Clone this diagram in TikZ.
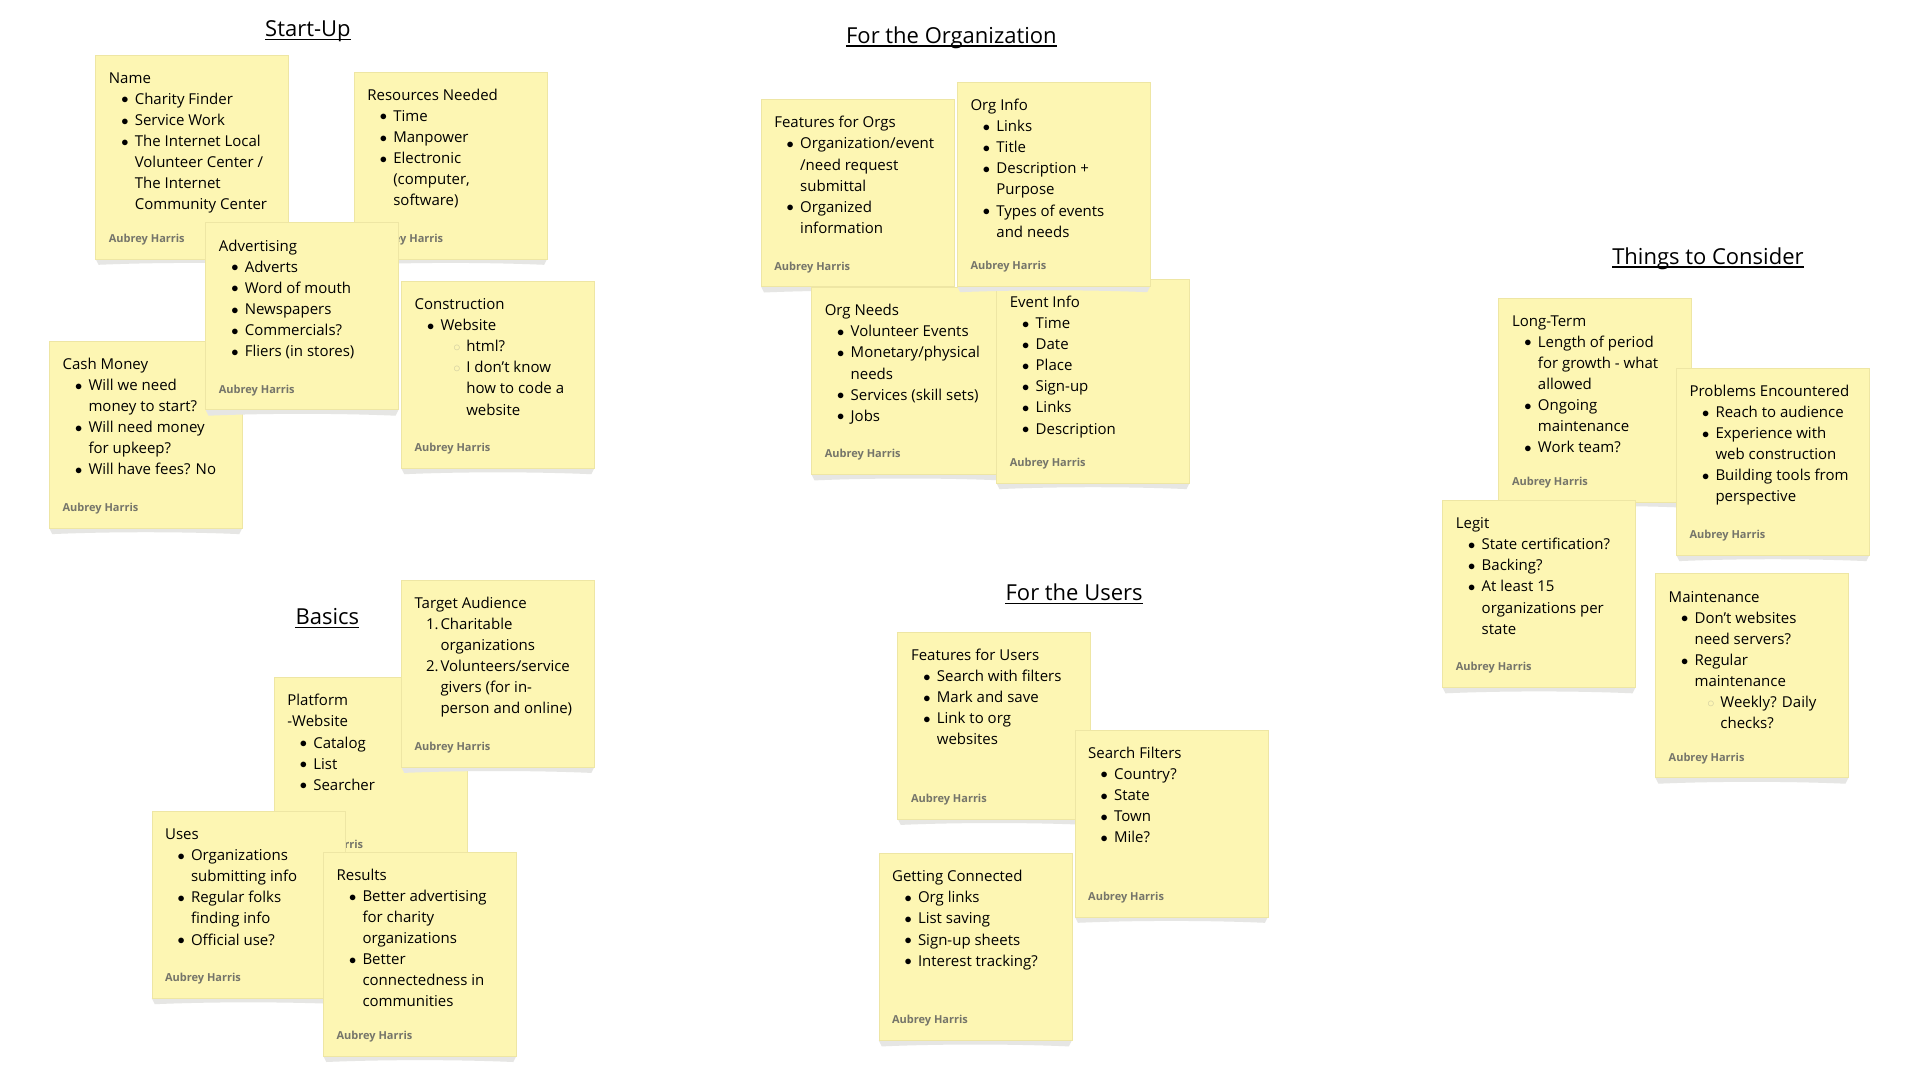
\documentclass[tikz,border=0pt]{standalone}
\usepackage{fontspec}
\setmainfont{Open Sans}
\definecolor{notefill}{HTML}{FDF6B3}
\definecolor{noteedge}{HTML}{EEE6A4}
\definecolor{shadowc}{HTML}{E6E6E4}
\definecolor{authorc}{HTML}{75756A}
\definecolor{subcol}{HTML}{CFCBA0}
\newcommand\itb{\hspace*{16pt}\makebox[0pt]{\raisebox{0.3pt}{$\bullet$}}\hspace*{9.9pt}}
\newcommand\itc{\hspace*{25.9pt}}
\newcommand\subb{\hspace*{42.3pt}\makebox[0pt]{\textcolor{subcol}{$\circ$}}\hspace*{9.4pt}}
\newcommand\subc{\hspace*{51.7pt}}
\newcommand\numi[1]{\hspace*{11.5pt}\makebox[14.4pt][l]{#1}}
\tikzset{
  notebox/.style={draw=noteedge, line width=0.6pt, fill=notefill, minimum width=193pt, inner sep=0pt, outer sep=0pt, rectangle},
  notetext/.style={anchor=base west, inner sep=0pt, font=\fontsize{15}{21.1}\selectfont},
  author/.style={anchor=base west, inner sep=0pt, text=authorc, font=\fontsize{11}{13}\selectfont\bfseries},
  heading/.style={anchor=base, inner sep=0pt, font=\fontsize{22}{26}\selectfont},
  uline/.style={line width=1.3pt}
}
\newcommand\sticky[5]{%
  \fill[shadowc] (#2,#3+#4) -- (#2+3,#3+#4+6) .. controls (#2+60,#3+#4+3.5) and (#2+133,#3+#4+3.5) .. (#2+190,#3+#4+6) -- (#2+193,#3+#4) -- cycle;
  \node[notebox, minimum height=#4pt, anchor=north west] (#1) at (#2,#3) {};
  \node[notetext] (#1-text) at (#2+13.1,#3+28.3) {\parbox[t]{180pt}{\raggedright #5}};
  \node[author] (#1-author) at (#2+13.1,#3+#4-16.5) {Aubrey Harris};
}
\newcommand\heading[4]{%
  \node[heading] (#1) at (#2,#3) {#4};
  \draw[uline] ([yshift=-2.7pt]#1.base west) -- ([yshift=-2.7pt]#1.base east);
}
\begin{document}
\begin{tikzpicture}[x=1pt,y=-1pt]
\fill[white] (0,0) rectangle (1920,1080);
\useasboundingbox (0,0) rectangle (1920,1080);
\begin{scope}[shift={(-0.8,-1.6)}]

% ---------------- Start-Up ----------------
\heading{hstart}{308.7}{38.1}{Start-Up}
\sticky{name}{96.4}{56.4}{204}{Name\\
\itb Charity Finder\\
\itb Service Work\\
\itb The Internet Local\\
\itc Volunteer Center /\\
\itc The Internet\\
\itc Community Center}
\sticky{resources}{354.9}{73.4}{187}{Resources Needed\\
\itb Time\\
\itb Manpower\\
\itb Electronic\\
\itc (computer,\\
\itc software)}
\sticky{cash}{50.1}{342.7}{187}{Cash Money\\
\itb Will we need\\
\itc money to start?\\
\itb Will need money\\
\itc for upkeep?\\
\itb Will have fees? No}
\sticky{construction}{402.1}{282.8}{187}{Construction\\
\itb Website\\
\subb html?\\
\subb I don’t know\\
\subc how to code a\\
\subc website}
\sticky{advertising}{206.4}{224.3}{187}{Advertising\\
\itb Adverts\\
\itb Word of mouth\\
\itb Newspapers\\
\itb Commercials?\\
\itb Fliers (in stores)}

% ---------------- For the Organization ----------------
\heading{horg}{952.2}{45}{For the Organization}
\sticky{featorgs}{761.8}{101.1}{187}{Features for Orgs\\
\itb Organization/event\\
\itc /need request\\
\itc submittal\\
\itb Organized\\
\itc information}
\sticky{orgneeds}{812.3}{289.0}{187}{Org Needs\\
\itb Volunteer Events\\
\itb Monetary/physical\\
\itc needs\\
\itb Services (skill sets)\\
\itb Jobs}
\sticky{eventinfo}{997.3}{280.7}{204}{Event Info\\
\itb Time\\
\itb Date\\
\itb Place\\
\itb Sign-up\\
\itb Links\\
\itb Description}
\sticky{orginfo}{958}{83.8}{204}{Org Info\\
\itb Links\\
\itb Title\\
\itb Description +\\
\itc Purpose\\
\itb Types of events\\
\itc and needs}

% ---------------- Basics ----------------
\heading{hbasics}{328.2}{626.5}{Basics}
\sticky{platform}{274.9}{679.1}{187}{Platform\\
-Website\\
\itb Catalog\\
\itb List\\
\itb Searcher}
\sticky{target}{402.1}{581.5}{187}{Target Audience\\
\numi{1.}Charitable\\
\itc organizations\\
\numi{2.}Volunteers/service\\
\itc givers (for in-\\
\itc person and online)}
\sticky{uses}{152.6}{812.8}{187}{Uses\\
\itb Organizations\\
\itc submitting info\\
\itb Regular folks\\
\itc finding info\\
\itb Official use?}
\sticky{results}{324.1}{853.6}{204}{Results\\
\itb Better advertising\\
\itc for charity\\
\itc organizations\\
\itb Better\\
\itc connectedness in\\
\itc communities}

% ---------------- For the Users ----------------
\heading{husers}{1074.9}{602.3}{For the Users}
\sticky{featusers}{898.5}{633.5}{187}{Features for Users\\
\itb Search with filters\\
\itb Mark and save\\
\itb Link to org\\
\itc websites}
\sticky{filters}{1075.7}{731.4}{187}{Search Filters\\
\itb Country?\\
\itb State\\
\itb Town\\
\itb Mile?}
\sticky{connected}{879.6}{855.0}{187}{Getting Connected\\
\itb Org links\\
\itb List saving\\
\itb Sign-up sheets\\
\itb Interest tracking?}

% ---------------- Things to Consider ----------------
\heading{hthings}{1708.7}{265.8}{Things to Consider}
\sticky{longterm}{1499.5}{299.4}{204}{Long-Term\\
\itb Length of period\\
\itc for growth - what\\
\itc allowed\\
\itb Ongoing\\
\itc maintenance\\
\itb Work team?}
\sticky{problems}{1677.1}{369.7}{187}{Problems Encountered\\
\itb Reach to audience\\
\itb Experience with\\
\itc web construction\\
\itb Building tools from\\
\itc perspective}
\sticky{legit}{1443.3}{501.9}{187}{Legit\\
\itb State certification?\\
\itb Backing?\\
\itb At least 15\\
\itc organizations per\\
\itc state}
\sticky{maintenance}{1656.2}{575.3}{204}{Maintenance\\
\itb Don’t websites\\
\itc need servers?\\
\itb Regular\\
\itc maintenance\\
\subb Weekly? Daily\\
\subc checks?}
\end{scope}
\end{tikzpicture}
\end{document}
